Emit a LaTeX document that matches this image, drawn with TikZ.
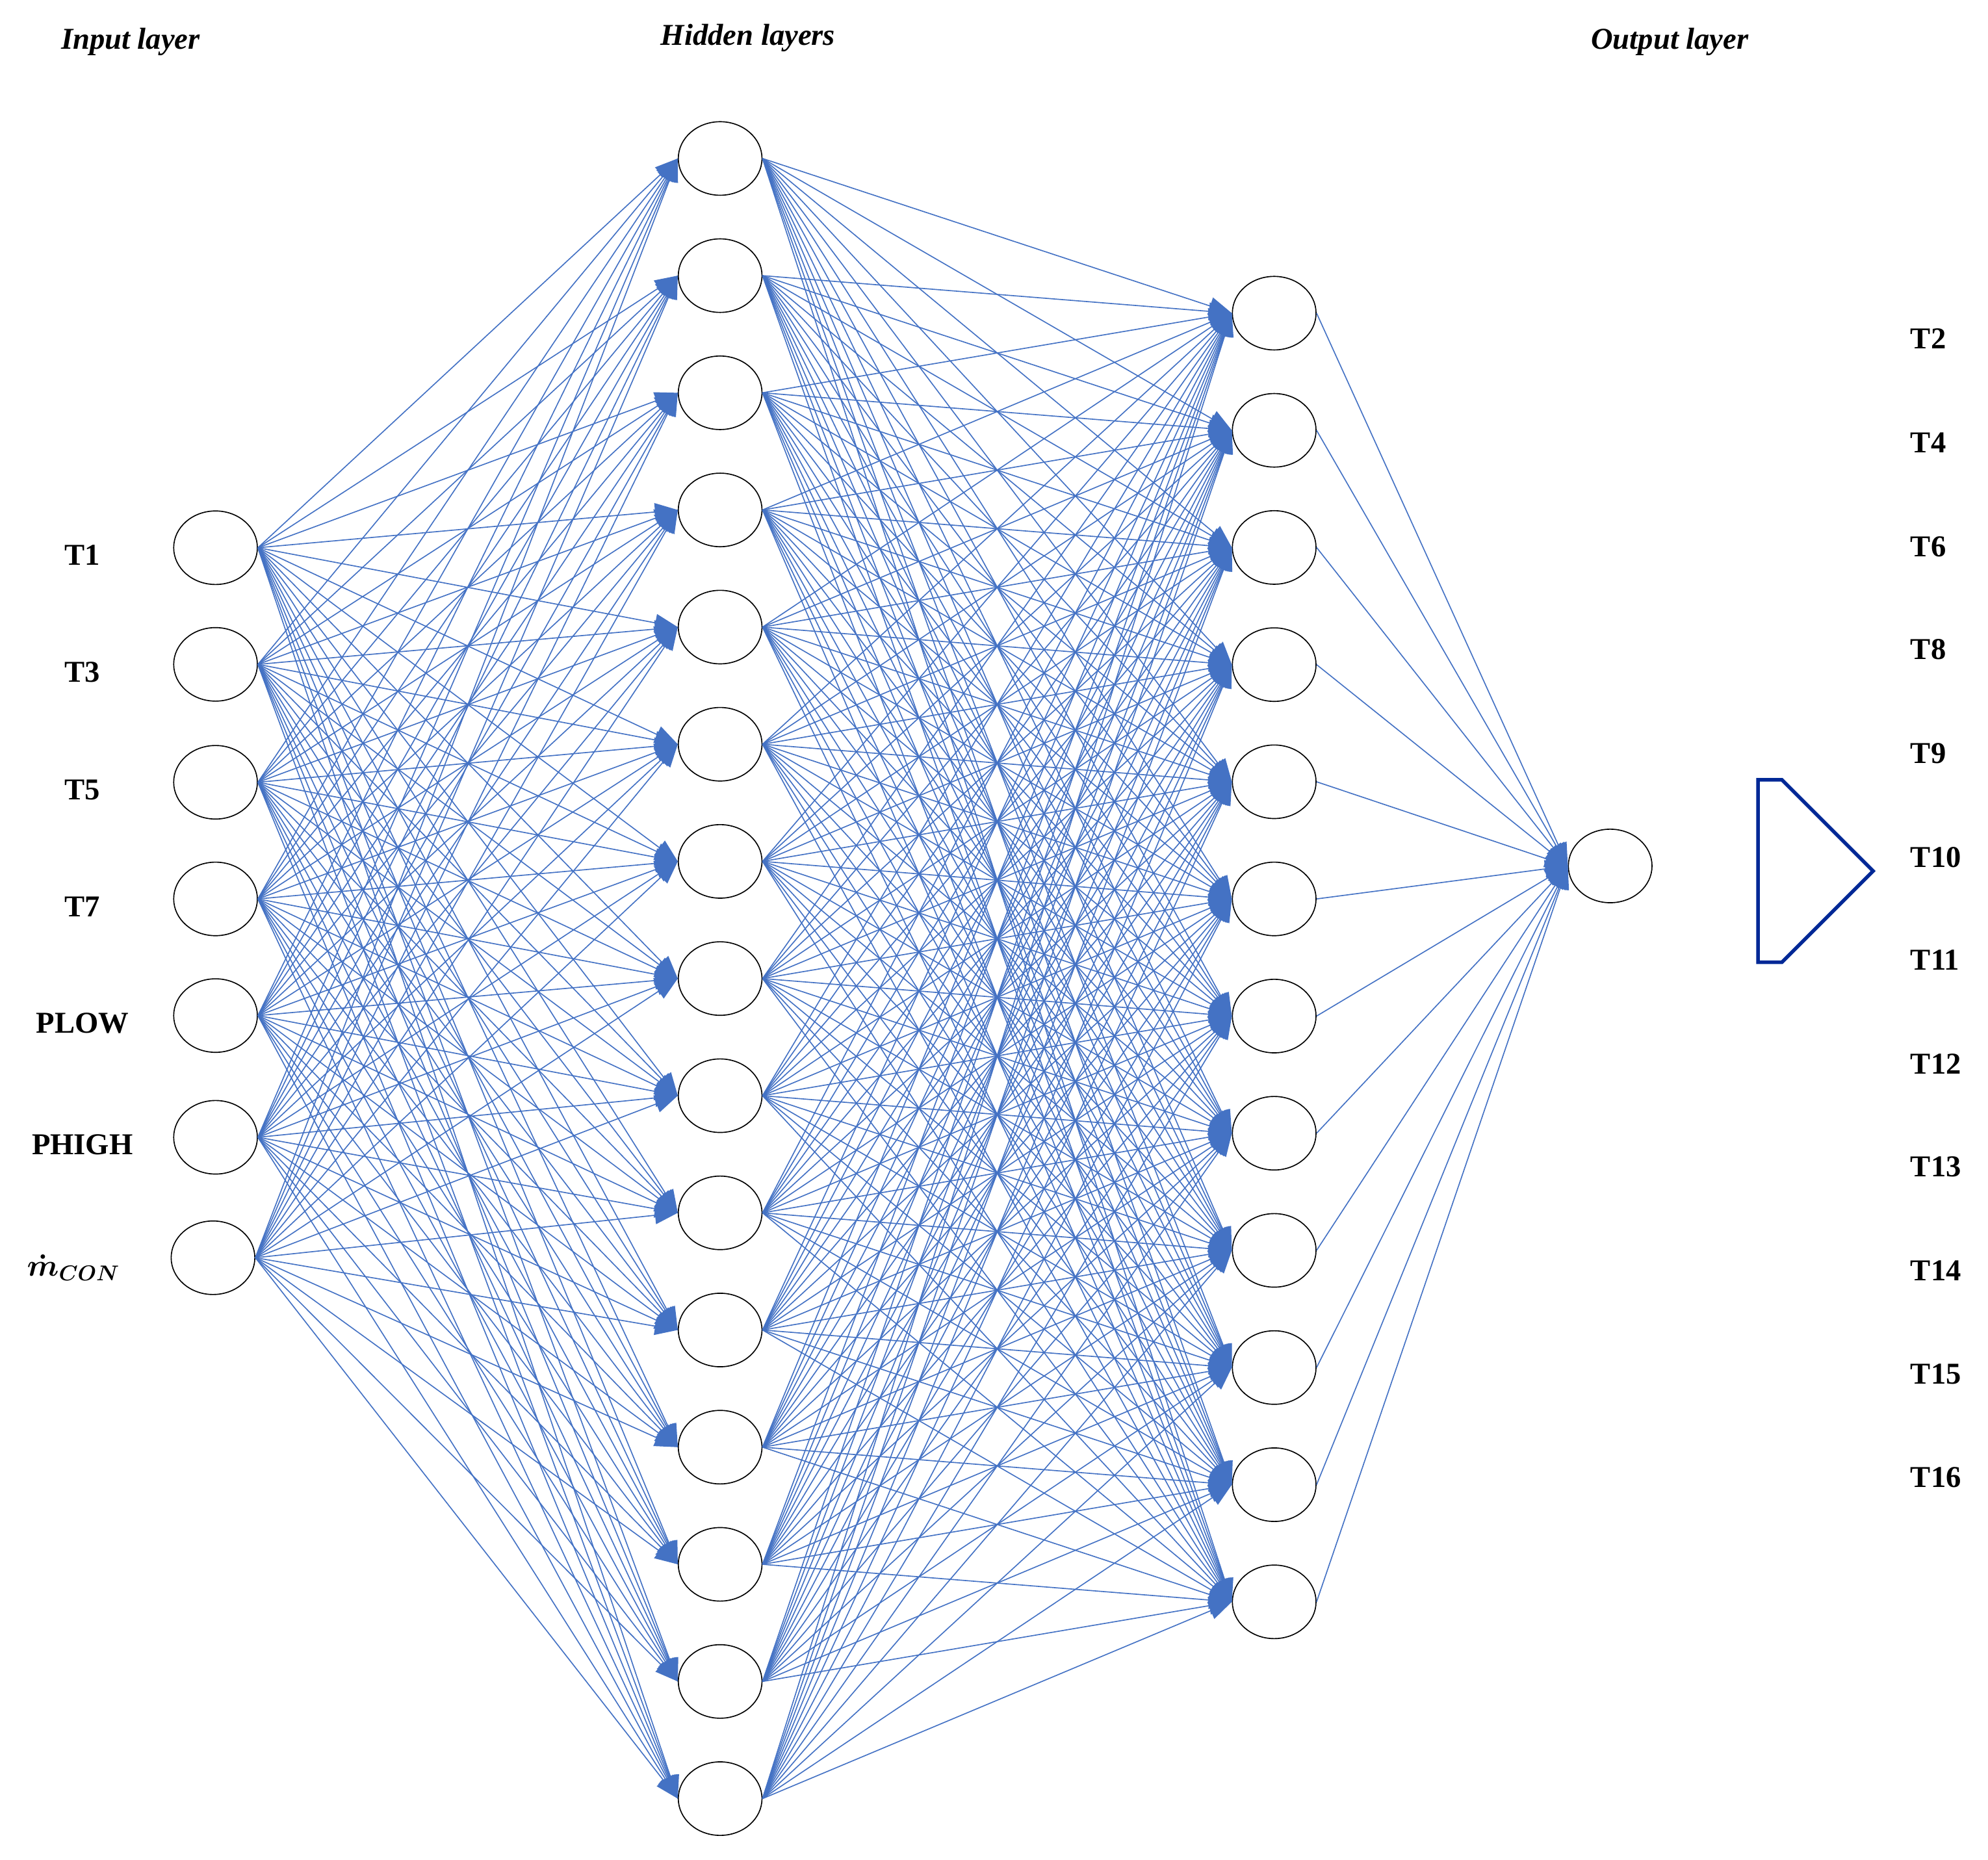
\documentclass[tikz,border=0pt]{standalone}
\usepackage{amsmath}
\usepackage{fontspec}
\setmainfont{Liberation Serif}
\usepackage{tikz}
\usetikzlibrary{positioning,arrows.meta,shapes.arrows,shapes.geometric}
\definecolor{edgeblue}{RGB}{68,114,196}
\definecolor{darkblue}{RGB}{0,40,150}
\begin{document}
\begin{tikzpicture}[x=0.25mm,y=-0.25mm,
    neuron/.style={draw=black, ellipse, minimum width=16.5mm, minimum height=14.5mm, fill=white, line width=0.6pt},
    wire/.style={draw=edgeblue, line width=0.6pt, -{Triangle[length=4.5mm,width=3.5mm]}},
    lab/.style={font=\fontsize{17}{20}\selectfont\bfseries},
    ttl/.style={font=\fontsize{17}{20}\selectfont\bfseries\itshape}]
\useasboundingbox (0,0) rectangle (1568,1467);

\node[ttl] (tin) at (103,33) {Input layer};
\node[ttl] (thid) at (590,30) {Hidden layers};
\node[ttl] (tout) at (1317,33) {Output layer};

% input layer
\foreach \x/\y/\t in {1/432/T1,2/524/T3,3/617/T5,4/709/T7,5/801/PLOW,6/897/PHIGH}
{
    \node[neuron] (i\x) at (170,\y) {};
    \node[lab] (li\x) at (65,\y+6) {\t};
}
\node[neuron] (i7) at (168,992) {};
\node[lab] (li7) at (58,1000) {$\boldsymbol{\dot m_{CON}}$};

% hidden layers
\foreach \x in {1,...,15}
    \node[neuron] (h\x) at (568,{125+92.4*(\x-1)}) {};
\foreach \x in {1,...,12}
    \node[neuron] (g\x) at (1005,{247+92.4*(\x-1)}) {};

% output layer
\node[neuron] (o) at (1270,683) {};
\node[single arrow, draw=darkblue, fill=white, line width=2pt, minimum height=21mm, minimum width=36mm, single arrow head extend=0mm, single arrow tip angle=90, inner sep=2mm] (big) at (1396,687) {};

\foreach \y/\t [count=\k] in {267/T2,349/T4,431/T6,512/T8,594/T9,676/T10,757/T11,839/T12,920/T13,1002/T14,1084/T15,1165/T16}
    \node[lab, anchor=west] (lo\k) at (1502,\y) {\t};

% connections
\foreach \a in {1,...,7}
    \foreach \b in {1,...,15}
        \draw[wire] (i\a.east) -- (h\b.west);
\foreach \a in {1,...,15}
    \foreach \b in {1,...,12}
        \draw[wire] (h\a.east) -- (g\b.west);
\foreach \a in {1,...,12}
    \draw[wire] (g\a.east) -- (o.west);

\end{tikzpicture}
\end{document}
